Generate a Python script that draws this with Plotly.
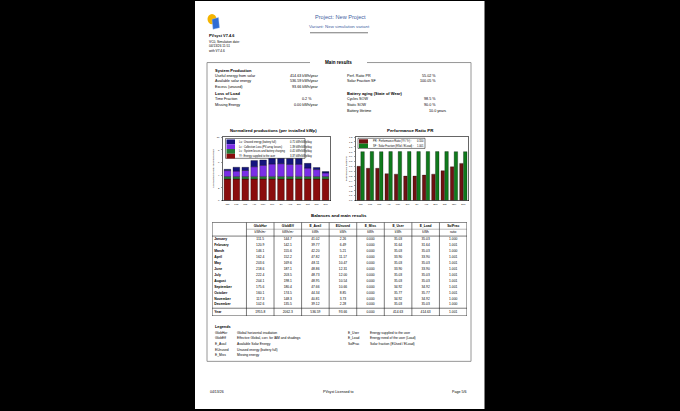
import plotly.graph_objects as go

W, H = 680, 411
FONT = "Liberation Sans, Arial, sans-serif"


def X(px):
    return px / W


def Y(py):
    return 1 - py / H


# ---------------- data ----------------
months = ["Jan", "Feb", "Mar", "Apr", "May", "Jun", "Jul", "Aug", "Sep", "Oct", "Nov", "Dec"]

# Normalized productions (kWh/kWp/day)
yf = [3.37, 3.38, 3.37, 3.38, 3.37, 3.38, 3.37, 3.37, 3.38, 3.37, 3.38, 3.37]
ls = [0.41, 0.41, 0.41, 0.42, 0.42, 0.42, 0.42, 0.42, 0.42, 0.41, 0.41, 0.41]
lc = [0.93, 0.84, 0.95, 1.52, 1.75, 1.95, 2.01, 1.90, 1.90, 1.33, 1.08, 0.57]
lu = [0.21, 0.61, 0.50, 0.97, 0.84, 1.16, 1.05, 0.95, 0.95, 0.74, 0.32, 0.21]
legend1_names = ["Lu : Unused energy (battery full)", "Lc : Collection Loss (PV-array losses)",
                 "Ls : System losses and battery charging", "Yf : Energy supplied to the user"]
legend1_vals = ["0.71 kWh/kWp/day", "1.39 kWh/kWp/day", "0.41 kWh/kWp/day", "3.37 kWh/kWp/day"]

# Performance ratio
pr = [0.70, 0.66, 0.66, 0.55, 0.54, 0.50, 0.50, 0.52, 0.54, 0.61, 0.69, 0.76]
sf = [1.000, 1.001, 1.000, 1.001, 1.001, 1.001, 1.001, 1.001, 1.001, 1.001, 1.000, 1.000]
legend2_names = ["PR : Performance Ratio (Yf / Yr) :", "SF : Solar Fraction (ESol / ELoad) :"]
legend2_vals = ["0.550", "1.001"]

# Balances table
row_names = ["January", "February", "March", "April", "May", "June", "July", "August",
             "September", "October", "November", "December", "Year"]
col_names = ["GlobHor", "GlobEff", "E_Avail", "EUnused", "E_Miss", "E_User", "E_Load", "SolFrac"]
col_units = ["kWh/m²", "kWh/m²", "kWh", "kWh", "kWh", "kWh", "kWh", "ratio"]
glob_hor = [111.5, 120.9, 146.1, 162.4, 203.6, 218.6, 222.4, 204.1, 175.6, 160.1, 117.3, 102.6, 1955.8]
glob_eff = [144.7, 142.1, 155.6, 152.2, 169.6, 187.1, 203.5, 198.1, 180.4, 174.5, 148.3, 135.5, 2062.3]
e_avail = [41.02, 39.77, 42.20, 47.82, 48.11, 48.86, 48.73, 48.95, 47.66, 44.34, 40.81, 39.12, 536.59]
e_unused = [2.26, 6.49, 5.21, 11.17, 10.47, 12.31, 12.00, 10.54, 10.66, 8.85, 3.73, 2.28, 93.66]
e_miss = [0.000, 0.000, 0.000, 0.000, 0.000, 0.000, 0.000, 0.000, 0.000, 0.000, 0.000, 0.000, 0.000]
e_user = [35.03, 31.64, 35.03, 33.90, 35.03, 33.90, 35.03, 35.03, 34.92, 35.77, 34.92, 35.03, 414.63]
e_load = [35.03, 31.64, 35.03, 33.90, 35.03, 33.90, 35.03, 35.03, 34.92, 35.77, 34.92, 35.03, 414.63]
sol_frac = [1.000, 1.001, 1.000, 1.001, 1.001, 1.001, 1.001, 1.001, 1.001, 1.001, 1.000, 1.000, 1.001]
table_cols = [(glob_hor, "{:.1f}"), (glob_eff, "{:.1f}"), (e_avail, "{:.2f}"), (e_unused, "{:.2f}"),
              (e_miss, "{:.3f}"), (e_user, "{:.2f}"), (e_load, "{:.2f}"), (sol_frac, "{:.3f}")]

# ---------------- styles ----------------
C_LU, C_LC, C_LS, C_YF = "#14147e", "#7a2ee6", "#267a36", "#8a0d0d"
C_PR, C_SF = "#6e1212", "#0f7a1c"
TITLE_BLUE = "#3f5f9f"

fig = go.Figure()

# chart 1: stacked via shared offsetgroup and bases
base_ls = [a for a in yf]
base_lc = [a + b for a, b in zip(yf, ls)]
base_lu = [a + b + c for a, b, c in zip(yf, ls, lc)]
for vals, base, col in [(yf, None, C_YF), (ls, base_ls, C_LS), (lc, base_lc, C_LC), (lu, base_lu, C_LU)]:
    fig.add_trace(go.Bar(x=months, y=vals, base=base, offsetgroup="n", xaxis="x", yaxis="y",
                         marker=dict(color=col, line=dict(color="black", width=0.3)), hoverinfo="skip"))

# chart 2
fig.add_trace(go.Bar(x=months, y=pr, offsetgroup="pr", xaxis="x2", yaxis="y2",
                     marker=dict(color=C_PR, line=dict(color="black", width=0.3)), hoverinfo="skip"))
fig.add_trace(go.Bar(x=months, y=sf, offsetgroup="sf", xaxis="x2", yaxis="y2",
                     marker=dict(color=C_SF, line=dict(color="black", width=0.3)), hoverinfo="skip"))

# table as text on its own axes
FIRST_W = 1.25
tx, ty, tt = [], [], []
for j, (vals, fmt) in enumerate(table_cols):
    for i, v in enumerate(vals):
        tx.append(FIRST_W + j + 0.5)
        ty.append(2.8 + i if i < 12 else 15.0)
        tt.append(fmt.format(v))
fig.add_trace(go.Scatter(x=tx, y=ty, text=tt, mode="text", xaxis="x3", yaxis="y3",
                         textfont=dict(size=3.3, family=FONT, color="black"),
                         cliponaxis=False, hoverinfo="skip"))
fig.add_trace(go.Scatter(x=[0.08] * len(row_names),
                         y=[2.8 + i if i < 12 else 15.0 for i in range(len(row_names))],
                         text=["<b>%s</b>" % r for r in row_names], mode="text", textposition="middle right",
                         xaxis="x3", yaxis="y3", textfont=dict(size=3.4, family=FONT, color="black"),
                         cliponaxis=False, hoverinfo="skip"))
hx = [FIRST_W + j + 0.5 for j in range(len(col_names))]
fig.add_trace(go.Scatter(x=hx + hx, y=[0.58] * len(hx) + [1.72] * len(hx),
                         text=["<b>%s</b>" % c for c in col_names] + col_units, mode="text",
                         xaxis="x3", yaxis="y3", textfont=dict(size=3.3, family=FONT, color="black"),
                         cliponaxis=False, hoverinfo="skip"))

# ---------------- shapes ----------------
shapes = []
shapes.append(dict(type="rect", xref="paper", yref="paper", x0=X(195), x1=X(484.5), y0=0, y1=1,
                   fillcolor="white", line=dict(width=0), layer="below"))
# logo
shapes.append(dict(type="circle", xref="paper", yref="paper", x0=X(207.5), x1=X(216.5), y0=Y(23.5), y1=Y(13),
                   fillcolor="#f4b400", line=dict(width=0)))
shapes.append(dict(type="path", xref="paper", yref="paper",
                   path="M %f %f L %f %f L %f %f L %f %f Z" % (X(212), Y(18.5), X(218.5), Y(16.5), X(219.5), Y(27), X(213), Y(28.5)),
                   fillcolor="#2f6cd4", line=dict(color="#9ec0f0", width=0.4)))
# header underline
shapes.append(dict(type="line", xref="paper", yref="paper", x0=X(310), x1=X(368), y0=Y(32), y1=Y(32),
                   line=dict(color="#555555", width=0.8)))
# main frame
FR = dict(color="#8a8a8a", width=0.9)
for seg in [(207, 62, 310, 62), (367, 62, 471, 62), (207, 62, 207, 363), (471, 62, 471, 363), (207, 363, 471, 363)]:
    shapes.append(dict(type="line", xref="paper", yref="paper", x0=X(seg[0]), y0=Y(seg[1]), x1=X(seg[2]), y1=Y(seg[3]),
                       line=FR))

# chart legends
def legend_box(x0, y0, x1, y1):
    shapes.append(dict(type="rect", xref="paper", yref="paper", x0=X(x0), x1=X(x1), y0=Y(y1), y1=Y(y0),
                       fillcolor="white", line=dict(color="black", width=0.5)))

legend_box(225.5, 138.5, 305, 158.5)
for k, col in enumerate([C_LU, C_LC, C_LS, C_YF]):
    shapes.append(dict(type="rect", xref="paper", yref="paper", x0=X(226.5), x1=X(235),
                       y0=Y(139.5 + 4.8 * (k + 1)), y1=Y(139.5 + 4.8 * k), fillcolor=col, line=dict(width=0)))
legend_box(358, 138.3, 425, 148.5)
for k, col in enumerate([C_PR, C_SF]):
    shapes.append(dict(type="rect", xref="paper", yref="paper", x0=X(359), x1=X(368),
                       y0=Y(139.3 + 4.4 * (k + 1)), y1=Y(139.3 + 4.4 * k), fillcolor=col, line=dict(width=0)))

# table lines (axis coords)
TL = dict(color="#222222", width=0.6)
NCOL = len(col_names)
shapes.append(dict(type="rect", xref="x3", yref="y3", x0=0, x1=FIRST_W + NCOL, y0=0, y1=15.7,
                   line=dict(color="#222222", width=0.8)))
for j in range(NCOL):
    xv = FIRST_W + j
    shapes.append(dict(type="line", xref="x3", yref="y3", x0=xv, x1=xv, y0=0, y1=15.7, line=TL))
shapes.append(dict(type="line", xref="x3", yref="y3", x0=FIRST_W, x1=FIRST_W + NCOL, y0=1.15, y1=1.15,
                   line=dict(color="#555555", width=0.4)))
shapes.append(dict(type="line", xref="x3", yref="y3", x0=0, x1=FIRST_W + NCOL, y0=2.3, y1=2.3, line=TL))
shapes.append(dict(type="line", xref="x3", yref="y3", x0=0, x1=FIRST_W + NCOL, y0=14.4, y1=14.4, line=TL))

# ---------------- annotations ----------------
ann = []


def txt(s, px, py, size=3.8, bold=False, xanchor="left", color="black", angle=0):
    ann.append(dict(text=("<b>%s</b>" % s) if bold else s, x=X(px), y=Y(py), xref="paper", yref="paper",
                    xanchor=xanchor, yanchor="middle", showarrow=False, textangle=angle,
                    font=dict(size=size, color=color, family=FONT)))


# header
txt("Project: New Project", 340, 16, 5.6, xanchor="center", color=TITLE_BLUE)
txt("Variant: New simulation variant", 339, 26, 4.4, xanchor="center", color=TITLE_BLUE)
txt("PVsyst V7.4.6", 207, 35, 3.9, bold=True)
txt("VC0, Simulation date:", 207, 41.5, 3.2)
txt("04/13/26 11:51", 207, 45.7, 3.2)
txt("with V7.4.6", 207, 50, 3.2)

# main results
txt("Main results", 338.5, 62, 4.6, bold=True, xanchor="center")
left_rows = [("System Production", None, 70.3, True), ("Useful energy from solar", "414.63 kWh/year", 75.7, False),
             ("Available solar energy", "536.59 kWh/year", 81.0, False),
             ("Excess (unused)", "93.66 kWh/year", 86.5, False), ("Loss of Load", None, 93.3, True),
             ("Time Fraction", "0.2 %", 99.0, False), ("Missing Energy", "0.00 kWh/year", 104.7, False)]
for lab, val, py, b in left_rows:
    txt(lab, 213, py, 4.0 if b else 3.7, bold=b)
    if val:
        txt(val, 321, py, 3.7, xanchor="right") if "kWh" in val else txt(val, 300, py, 3.7)
right_rows = [("Perf. Ratio PR", "55.02 %", 75.7, False), ("Solar Fraction SF", "100.05 %", 81.0, False),
              ("Battery aging (State of Wear)", None, 93.3, True), ("Cycles SOW", "98.5 %", 99.0, False),
              ("Static SOW", "90.0 %", 104.7, False), ("Battery lifetime", "10.0 years", 110.5, False)]
for lab, val, py, b in right_rows:
    txt(lab, 345, py, 4.0 if b else 3.7, bold=b)
    if val:
        txt(val, 438, py, 3.7, xanchor="right") if "%" in val else txt(val, 426.5, py, 3.7)

# chart titles and axis titles
txt("Normalized productions (per installed kWp)", 273, 130, 4.2, bold=True, xanchor="center")
txt("Performance Ratio PR", 410, 130, 4.4, bold=True, xanchor="center")
txt("Normalized Energy [kWh/kWp/day]", 214, 169, 2.5, xanchor="center", angle=-90)
txt("Performance Ratio PR", 346.5, 169, 2.5, xanchor="center", angle=-90)

for k, (nm, vl) in enumerate(zip(legend1_names, legend1_vals)):
    txt(nm, 237, 141.9 + 4.8 * k, 2.6)
    txt(vl, 288, 141.9 + 4.8 * k, 2.6)
for k, (nm, vl) in enumerate(zip(legend2_names, legend2_vals)):
    txt(nm, 371, 141.5 + 4.4 * k, 2.6)
    txt(vl, 415, 141.5 + 4.4 * k, 2.6)

# table title
txt("Balances and main results", 338.5, 216, 4.4, bold=True, xanchor="center")

# legends section
txt("Legends", 213, 328, 3.8, bold=True)
left_leg = [("GlobHor", "Global horizontal irradiation"), ("GlobEff", "Effective Global, corr. for IAM and shadings"),
            ("E_Avail", "Available Solar Energy"), ("EUnused", "Unused energy (battery full)"),
            ("E_Miss", "Missing energy")]
right_leg = [("E_User", "Energy supplied to the user"), ("E_Load", "Energy need of the user (Load)"),
             ("SolFrac", "Solar fraction (EUsed / ELoad)")]
leg_y = [334, 339.7, 345.3, 351.2, 357]
for (a, d), py in zip(left_leg, leg_y):
    txt(a, 213, py, 3.3)
    txt(d, 235, py, 3.3)
for (a, d), py in zip(right_leg, leg_y):
    txt(a, 346, py, 3.3)
    txt(d, 368, py, 3.3)

# footer
txt("04/13/26", 208, 394, 3.5)
txt("PVsyst Licensed to", 338, 394, 3.6, xanchor="center")
txt("Page 5/6", 468, 394, 3.6, xanchor="right")

# ---------------- layout ----------------
AX = dict(showline=True, linecolor="black", linewidth=0.6, mirror=True, showgrid=False, zeroline=False,
          fixedrange=True, tickfont=dict(size=2.4, family=FONT, color="black"))
fig.update_layout(
    width=W, height=H, autosize=False, margin=dict(l=0, r=0, t=0, b=0),
    paper_bgcolor="black", plot_bgcolor="white", showlegend=False,
    barmode="group", bargap=0.18, bargroupgap=0.08,
    xaxis=dict(domain=[X(223), X(330)], anchor="y", type="category", range=[-0.5, 11.5],
               ticks="", ticklabelstandoff=1, **AX),
    yaxis=dict(domain=[Y(201), Y(137)], anchor="x", range=[0, 10], dtick=2, ticks="outside", ticklen=1.5,
               tickwidth=0.5, ticklabelstandoff=1, **AX),
    xaxis2=dict(domain=[X(356), X(468)], anchor="y2", type="category", range=[-0.5, 11.5],
                ticks="", ticklabelstandoff=1, **AX),
    yaxis2=dict(domain=[Y(201), Y(137)], anchor="x2", range=[0, 1.3], dtick=0.1, tickformat=".1f",
                ticks="outside", ticklen=1.5, tickwidth=0.5, ticklabelstandoff=1, **AX),
    xaxis3=dict(domain=[X(212), X(467)], anchor="y3", range=[0, FIRST_W + NCOL], visible=False, fixedrange=True),
    yaxis3=dict(domain=[Y(317.3), Y(223)], anchor="x3", range=[15.7, 0], visible=False, fixedrange=True),
    shapes=shapes, annotations=ann,
)

fig.write_html("out.html", config={"displayModeBar": False, "staticPlot": True},
               post_script="document.body.style.margin='0';document.body.style.overflow='hidden';")
